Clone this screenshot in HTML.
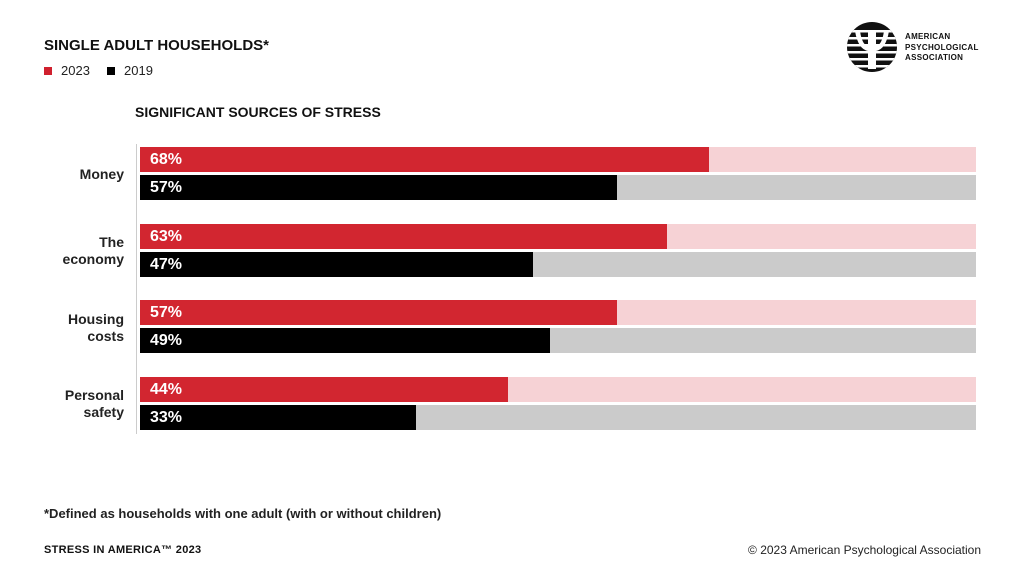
<!DOCTYPE html><html><head><style>
body{margin:0;width:1024px;height:576px;background:#fff;position:relative;font-family:"Liberation Sans",sans-serif;overflow:hidden}
div{position:absolute}
.t{font-weight:bold;color:#111}
.bar{left:140px;width:836px;height:25px}
.f{left:0;top:0;height:25px}
.v{left:10px;top:3px;color:#fff;font-weight:bold;font-size:16px;line-height:19px}
.lab{right:900px;text-align:right;font-size:14px;font-weight:bold;color:#222;line-height:17px}
</style></head><body>
<div class="t" style="left:44px;top:37px;font-size:15px">SINGLE ADULT HOUSEHOLDS*</div>
<div style="left:44px;top:67px;width:8px;height:8px;background:#d0202e"></div>
<div style="left:61px;top:63px;font-size:13px;color:#222">2023</div>
<div style="left:107px;top:67px;width:8px;height:8px;background:#000"></div>
<div style="left:124px;top:63px;font-size:13px;color:#222">2019</div>
<div class="t" style="left:135px;top:104px;font-size:14px">SIGNIFICANT SOURCES OF STRESS</div>
<div style="left:136px;top:144px;width:1px;height:290px;background:#ccc"></div>

<div class="bar" style="top:147px;background:#f6d2d5"><div class="f" style="width:569px;background:#d22630"></div><div class="v">68%</div></div>
<div class="bar" style="top:175px;background:#cbcbcb"><div class="f" style="width:477px;background:#000"></div><div class="v">57%</div></div>
<div class="bar" style="top:224px;background:#f6d2d5"><div class="f" style="width:527px;background:#d22630"></div><div class="v">63%</div></div>
<div class="bar" style="top:252px;background:#cbcbcb"><div class="f" style="width:393px;background:#000"></div><div class="v">47%</div></div>
<div class="bar" style="top:300px;background:#f6d2d5"><div class="f" style="width:477px;background:#d22630"></div><div class="v">57%</div></div>
<div class="bar" style="top:328px;background:#cbcbcb"><div class="f" style="width:410px;background:#000"></div><div class="v">49%</div></div>
<div class="bar" style="top:377px;background:#f6d2d5"><div class="f" style="width:368px;background:#d22630"></div><div class="v">44%</div></div>
<div class="bar" style="top:405px;background:#cbcbcb"><div class="f" style="width:276px;background:#000"></div><div class="v">33%</div></div>

<div class="lab" style="top:166px">Money</div>
<div class="lab" style="top:234px">The<br>economy</div>
<div class="lab" style="top:311px">Housing<br>costs</div>
<div class="lab" style="top:387px">Personal<br>safety</div>

<div style="left:44px;top:506px;font-size:13px;color:#222;font-weight:bold;white-space:nowrap">*Defined as households with one adult (with or without children)</div>
<div class="t" style="left:44px;top:544px;font-size:11px;letter-spacing:0.3px;white-space:nowrap">STRESS IN AMERICA™ 2023</div>
<div style="left:680px;top:543px;width:301px;text-align:right;font-size:12px;color:#222;white-space:nowrap">© 2023 American Psychological Association</div>

<svg style="position:absolute;left:846px;top:21px" width="52" height="52" viewBox="0 0 52 52">
<defs><clipPath id="c"><circle cx="26" cy="26" r="25"/></clipPath></defs>
<g clip-path="url(#c)"><rect width="52" height="52" fill="#111"/>
<g fill="#fff"><rect x="0" y="9" width="52" height="2.5"/><rect x="0" y="16" width="52" height="2.5"/><rect x="0" y="23" width="52" height="2.5"/><rect x="0" y="30" width="52" height="2.5"/><rect x="0" y="37" width="52" height="2.5"/><rect x="0" y="44" width="52" height="2.5"/>
<path d="M9 10 Q12 28 22 30 L22 48 L30 48 L30 30 Q40 28 43 10 L38 10 Q36 24 30 25 L30 10 L22 10 L22 25 Q16 24 14 10Z"/></g></g></svg>
<div style="left:905px;top:32px;font-size:8px;font-weight:bold;line-height:10.5px;color:#111;letter-spacing:0.3px;white-space:nowrap">AMERICAN<br>PSYCHOLOGICAL<br>ASSOCIATION</div>
</body></html>
